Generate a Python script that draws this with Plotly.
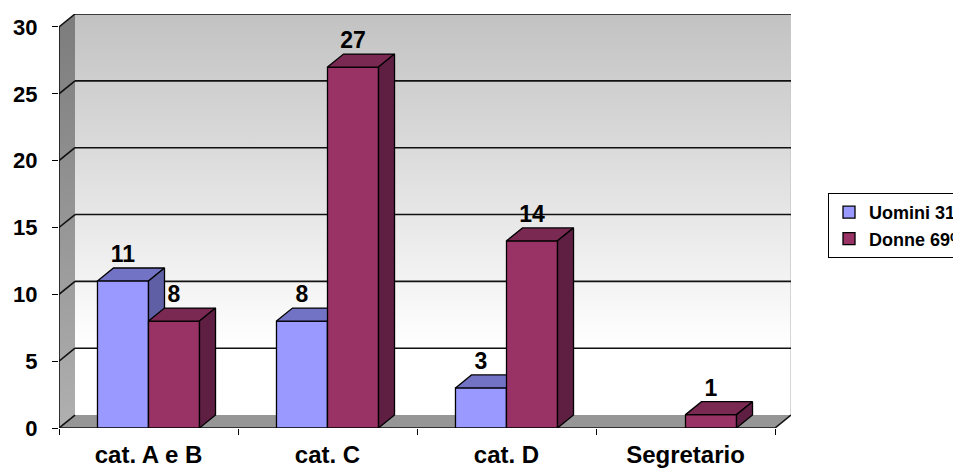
import plotly.graph_objects as go

# Data
categories = ["cat. A e B", "cat. C", "cat. D", "Segretario"]
uomini = [11, 8, 3, 0]
donne = [8, 27, 14, 1]
series_names = ["Uomini 31%", "Donne 69%"]
y_ticks = [0, 5, 10, 15, 20, 25, 30]

FONT = "Liberation Sans, Arial, sans-serif"
W = 0.285            # bar width (category units)
DX, DY = 0.0894, 0.97  # pseudo-3D depth offset in axis units
X0, X1 = -0.5, len(categories) - 0.5
YMAX = y_ticks[-1]
idx = list(range(len(categories)))

fig = go.Figure()


def polys(shapes):
    xs, ys = [], []
    for pts in shapes:
        for px, py in pts + [pts[0]]:
            xs.append(px)
            ys.append(py)
        xs.append(None)
        ys.append(None)
    return xs, ys


# --- back wall with vertical gradient
bx, by = polys([[(X0 + DX, DY), (X1 + DX, DY), (X1 + DX, YMAX + DY), (X0 + DX, YMAX + DY)]])
fig.add_trace(go.Scatter(
    x=bx, y=by, mode="lines", fill="toself", line=dict(width=0),
    fillgradient=dict(type="vertical",
                      colorscale=[[0, "#ffffff"], [0.17, "#ffffff"], [1, "#c2c2c2"]]),
    hoverinfo="skip", showlegend=False))

# --- left side wall
sx, sy = polys([[(X0, 0), (X0 + DX, DY), (X0 + DX, YMAX + DY), (X0, YMAX)]])
fig.add_trace(go.Scatter(
    x=sx, y=sy, mode="lines", fill="toself", line=dict(width=0),
    fillgradient=dict(type="vertical",
                      colorscale=[[0, "#b0b0b0"], [1, "#7c7c7c"]]),
    hoverinfo="skip", showlegend=False))

# --- floor
fx, fy = polys([[(X0, 0), (X1, 0), (X1 + DX, DY), (X0 + DX, DY)]])
fig.add_trace(go.Scatter(
    x=fx, y=fy, mode="lines", fill="toself", fillcolor="#969696",
    line=dict(width=0), hoverinfo="skip", showlegend=False))

# --- right edge of back wall (light)
fig.add_trace(go.Scatter(
    x=[X1 + DX, X1 + DX], y=[DY, YMAX + DY], mode="lines",
    line=dict(color="#c8c8c8", width=1.5), cliponaxis=False,
    hoverinfo="skip", showlegend=False))

# --- gridlines: wall lines plus side-wall diagonals
gx, gy = [], []
for v in y_ticks:
    if v > 0:
        gx += [X0 + DX, X1 + DX, None]
        gy += [v + DY, v + DY, None]
    gx += [X0, X0 + DX, None]
    gy += [v, v + DY, None]
# outer frame: front axis, floor front/right edges
gx += [X1 + DX, X1, X0, X0, None]
gy += [DY, 0, 0, YMAX, None]
fig.add_trace(go.Scatter(
    x=gx, y=gy, mode="lines", line=dict(color="#111111", width=1.6),
    cliponaxis=False, hoverinfo="skip", showlegend=False))

# --- bars with top and side faces, one overlay subplot per series
series = [
    (uomini, series_names[0], -W, "#9999ff", "#7373c6", "#5f5fa6", "x2", "y2"),
    (donne, series_names[1], 0.0, "#993366", "#7a2952", "#5e1f42", "x3", "y3"),
]
for vals, name, off, c_front, c_top, c_side, xa, ya in series:
    fig.add_trace(go.Bar(
        x=idx, y=[v if v else None for v in vals], offset=off, width=W,
        marker=dict(color=c_front, line=dict(color="black", width=1.3)),
        name=name, legendgroup=name, xaxis=xa, yaxis=ya,
        cliponaxis=False, hoverinfo="skip"))
    tops, sides = [], []
    lx, ly, lt = [], [], []
    for i, v in zip(idx, vals):
        if not v:
            continue
        l, r = i + off, i + off + W
        tops.append([(l, v), (r, v), (r + DX, v + DY), (l + DX, v + DY)])
        sides.append([(r, 0), (r, v), (r + DX, v + DY), (r + DX, DY)])
        lx.append(i + off + W / 2)
        ly.append(v + DY)
        lt.append(str(v))
    tx, ty = polys(tops)
    fig.add_trace(go.Scatter(
        x=tx, y=ty, mode="lines", fill="toself", fillcolor=c_top,
        line=dict(color="black", width=1.3), xaxis=xa, yaxis=ya,
        cliponaxis=False, hoverinfo="skip", showlegend=False))
    sx2, sy2 = polys(sides)
    fig.add_trace(go.Scatter(
        x=sx2, y=sy2, mode="lines", fill="toself", fillcolor=c_side,
        line=dict(color="black", width=1.3), xaxis=xa, yaxis=ya,
        cliponaxis=False, hoverinfo="skip", showlegend=False))
    fig.add_trace(go.Scatter(
        x=lx, y=ly, text=lt, mode="text", textposition="top center",
        textfont=dict(family=FONT, size=23, color="black", weight="bold"),
        xaxis=xa, yaxis=ya, cliponaxis=False, hoverinfo="skip", showlegend=False))

xr = [X0, X1 + DX]
yr = [0, YMAX + DY]
fig.update_layout(
    width=953, height=468,
    margin=dict(l=59, r=162, t=14, b=40, autoexpand=False),
    paper_bgcolor="white", plot_bgcolor="white",
    showlegend=True,
    legend=dict(
        x=(828 - 59) / 732, y=(428 - 193) / 414, xanchor="left", yanchor="top",
        bordercolor="black", borderwidth=1, bgcolor="white",
        font=dict(family=FONT, size=18, color="black", weight="bold"),
        tracegroupgap=9, traceorder="normal"),
    xaxis=dict(
        range=xr, tickmode="array", tickvals=idx, ticktext=categories,
        ticks="", showgrid=False, zeroline=False, showline=False,
        tickfont=dict(family=FONT, size=24, color="black", weight="bold"),
        ticklabelstandoff=10,
        minor=dict(tickmode="array", tickvals=[i - 0.5 for i in idx] + [X1],
                   ticks="outside", ticklen=6, tickcolor="black", tickwidth=1.3,
                   showgrid=False)),
    yaxis=dict(
        range=yr, tickmode="array", tickvals=y_ticks,
        ticks="outside", ticklen=6, tickcolor="black", tickwidth=1.3,
        showgrid=False, zeroline=False, showline=False,
        tickfont=dict(family=FONT, size=22, color="black", weight="bold"),
        ticklabelstandoff=10),
    xaxis2=dict(range=xr, overlaying="x", anchor="y2", visible=False),
    yaxis2=dict(range=yr, overlaying="y", anchor="x2", visible=False),
    xaxis3=dict(range=xr, overlaying="x", anchor="y3", visible=False),
    yaxis3=dict(range=yr, overlaying="y", anchor="x3", visible=False),
)

fig.write_html("out.html")
